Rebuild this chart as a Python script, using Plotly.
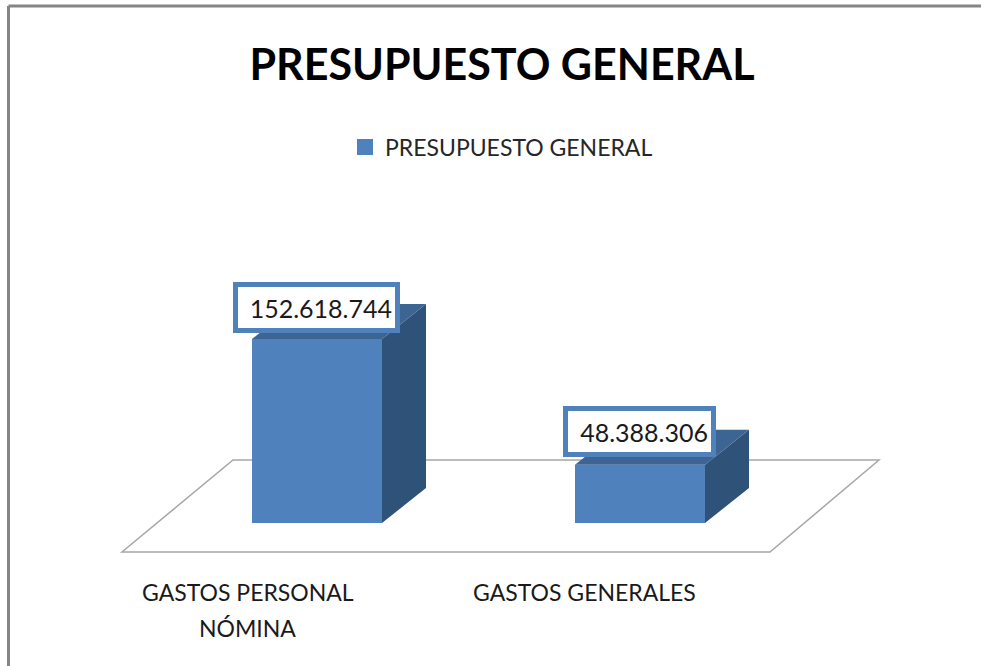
import plotly.graph_objects as go

W, H = 981, 666
TITLE = "PRESUPUESTO GENERAL"
SERIES_NAME = "PRESUPUESTO GENERAL"
CATEGORY_LINES = [["GASTOS PERSONAL", "NÓMINA"], ["GASTOS GENERALES"]]
VALUES = [152618744, 48388306]
VALUE_LABELS = ["152.618.744", "48.388.306"]

FONT = "Lato, Carlito, Calibri, sans-serif"
FRONT, TOP, SIDE = "#4F81BD", "#3C6594", "#2F5279"
FRAME, FLOOR = "#858585", "#A6A6A6"

# axis scales: one category step = 323 px, one px = 829450 units, baseline at y=523 px
STEP_PX, UNIT_PX, X0_PX, Y0_PX = 323.0, 829450.0, 317.0, 523.0
BAR_W = 130 / STEP_PX
DX = 44 / STEP_PX
DY = 35 * UNIT_PX

def px(p):
    return p / W

def py(p):
    return 1 - p / H

fig = go.Figure()
fig.add_trace(go.Bar(x=[0, 1], y=VALUES, width=BAR_W, marker=dict(color=FRONT, line_width=0),
                     showlegend=False, hoverinfo="skip"))

for i, v in enumerate(VALUES):
    l, r = i - BAR_W / 2, i + BAR_W / 2
    fig.add_trace(go.Scatter(x=[r, r + DX, r + DX, r, r], y=[0, DY, v + DY, v, 0], mode="lines",
                             fill="toself", fillcolor=SIDE, line=dict(width=0), showlegend=False,
                             hoverinfo="skip"))
    fig.add_trace(go.Scatter(x=[l, r, r + DX, l + DX, l], y=[v, v, v + DY, v + DY, v], mode="lines",
                             fill="toself", fillcolor=TOP, line=dict(width=0), showlegend=False,
                             hoverinfo="skip"))

fig.add_trace(go.Scatter(x=[None], y=[None], mode="markers", name=SERIES_NAME,
                         marker=dict(symbol="square", size=16, color=FRONT)))

# value call-outs: (x shift, y shift of box centre from the bar's top, inner box width)
LABEL_OFFSETS = [(-0.5, 32, 151), (-0.5, 33, 137)]
for i, (v, t) in enumerate(zip(VALUES, VALUE_LABELS)):
    sx, sy, bw = LABEL_OFFSETS[i]
    fig.add_annotation(x=i, y=v, xref="x", yref="y", text=t, showarrow=False, xshift=sx, yshift=sy,
                       width=bw, height=35, align="right", valign="middle", bgcolor="white",
                       bordercolor=FRONT, borderwidth=5, borderpad=3,
                       font=dict(family=FONT, size=25, color="#1a1a1a"))

# category labels sit below the floor, left of the bars because of the 3D projection
CAT_SHIFTS = [-69.5, -56]
LINE_CENTRES_PX = [592, 628]
for i, lines in enumerate(CATEGORY_LINES):
    for line, yc in zip(lines, LINE_CENTRES_PX):
        fig.add_annotation(x=i, y=py(yc), xref="x", yref="paper", text=line, showarrow=False,
                           xshift=CAT_SHIFTS[i], yanchor="middle", align="center",
                           font=dict(family=FONT, size=23, color="#1a1a1a"))

shapes = [
    dict(type="path", xref="paper", yref="paper", layer="below",
         path=f"M{px(122)},{py(552)} L{px(770)},{py(552)} L{px(879)},{py(460)} L{px(233)},{py(460)} Z",
         line=dict(color=FLOOR, width=1.5), fillcolor="rgba(0,0,0,0)"),
    dict(type="line", xref="paper", yref="paper", x0=px(8.5), x1=px(8.5), y0=0, y1=py(6),
         line=dict(color=FRAME, width=3)),
    dict(type="line", xref="paper", yref="paper", x0=px(8.5), x1=1, y0=py(6), y1=py(6),
         line=dict(color=FRAME, width=3)),
]

fig.update_layout(
    width=W, height=H, margin=dict(l=0, r=0, t=0, b=0),
    paper_bgcolor="white", plot_bgcolor="white", hovermode=False, shapes=shapes,
    title=dict(text=f"<b>{TITLE}</b>", x=502 / W, xanchor="center", y=py(65), yanchor="middle",
               font=dict(family=FONT, size=43, color="black")),
    legend=dict(x=px(345), xanchor="left", y=py(147), yanchor="middle", bgcolor="rgba(0,0,0,0)",
                font=dict(family=FONT, size=23, color="#262626")),
    xaxis=dict(visible=False, range=[-X0_PX / STEP_PX, (W - X0_PX) / STEP_PX], fixedrange=True),
    yaxis=dict(visible=False, range=[-(H - Y0_PX) * UNIT_PX, Y0_PX * UNIT_PX], fixedrange=True),
)
fig.write_html("out.html", config={"displayModeBar": False},
               post_script="document.body.style.margin='0';")
